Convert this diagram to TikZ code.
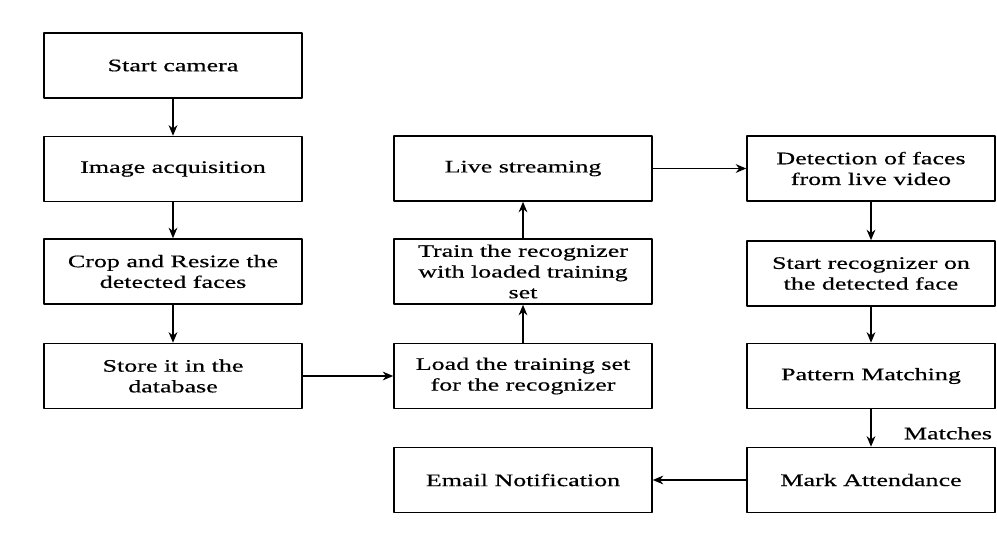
\documentclass[tikz,border=0pt]{standalone}
\usepackage{fontspec}
\setmainfont{Liberation Serif}[FakeStretch=1.48, FakeBold=0.5]
\usetikzlibrary{arrows.meta}
\begin{document}
\begin{tikzpicture}[x=0.02cm, y=-0.02cm, font=\fontsize{10}{11.8}\selectfont, line join=round, >={Stealth[length=6pt, width=5pt]},
	blk/.style={draw, line width=0.9pt, minimum width=5.16cm, minimum height=1.3cm, align=center, inner sep=2pt},
	blkr/.style={blk, minimum width=4.96cm},
	lnk/.style={->, line width=0.8pt}]
	\useasboundingbox (0,0) rectangle (997,541);
	% left column
	\node[blk] (cam) at (173,65.5) {Start camera};
	\node[blk] (acq) at (173,169) {Image acquisition};
	\node[blk] (crop) at (173,271.5) {Crop and Resize the\\detected faces};
	\node[blk] (store) at (173,376) {Store it in the\\database};
	% middle column
	\node[blk] (live) at (523,168.5) {Live streaming};
	\node[blk] (train) at (523,271.5) {Train the recognizer\\with loaded training\\set};
	\node[blk] (load) at (523,376) {Load the training set\\for the recognizer};
	\node[blk] (mail) at (523,480) {Email Notification};
	% right column
	\node[blkr] (detect) at (871,168.5) {Detection of faces\\from live video};
	\node[blkr] (recog) at (871,273.5) {Start recognizer on\\the detected face};
	\node[blkr] (match) at (871,376) {Pattern Matching};
	\node[blkr] (mark) at (871,480) {Mark Attendance};
	\foreach \a/\b in {cam/acq, acq/crop, crop/store, load/train, train/live, detect/recog, recog/match, store/load, live/detect, mark/mail}
		{\draw[lnk] (\a) -- (\b);}
	\draw[lnk] (match) -- node[right=15pt, yshift=-3pt]{Matches} (mark);
\end{tikzpicture}
\end{document}
